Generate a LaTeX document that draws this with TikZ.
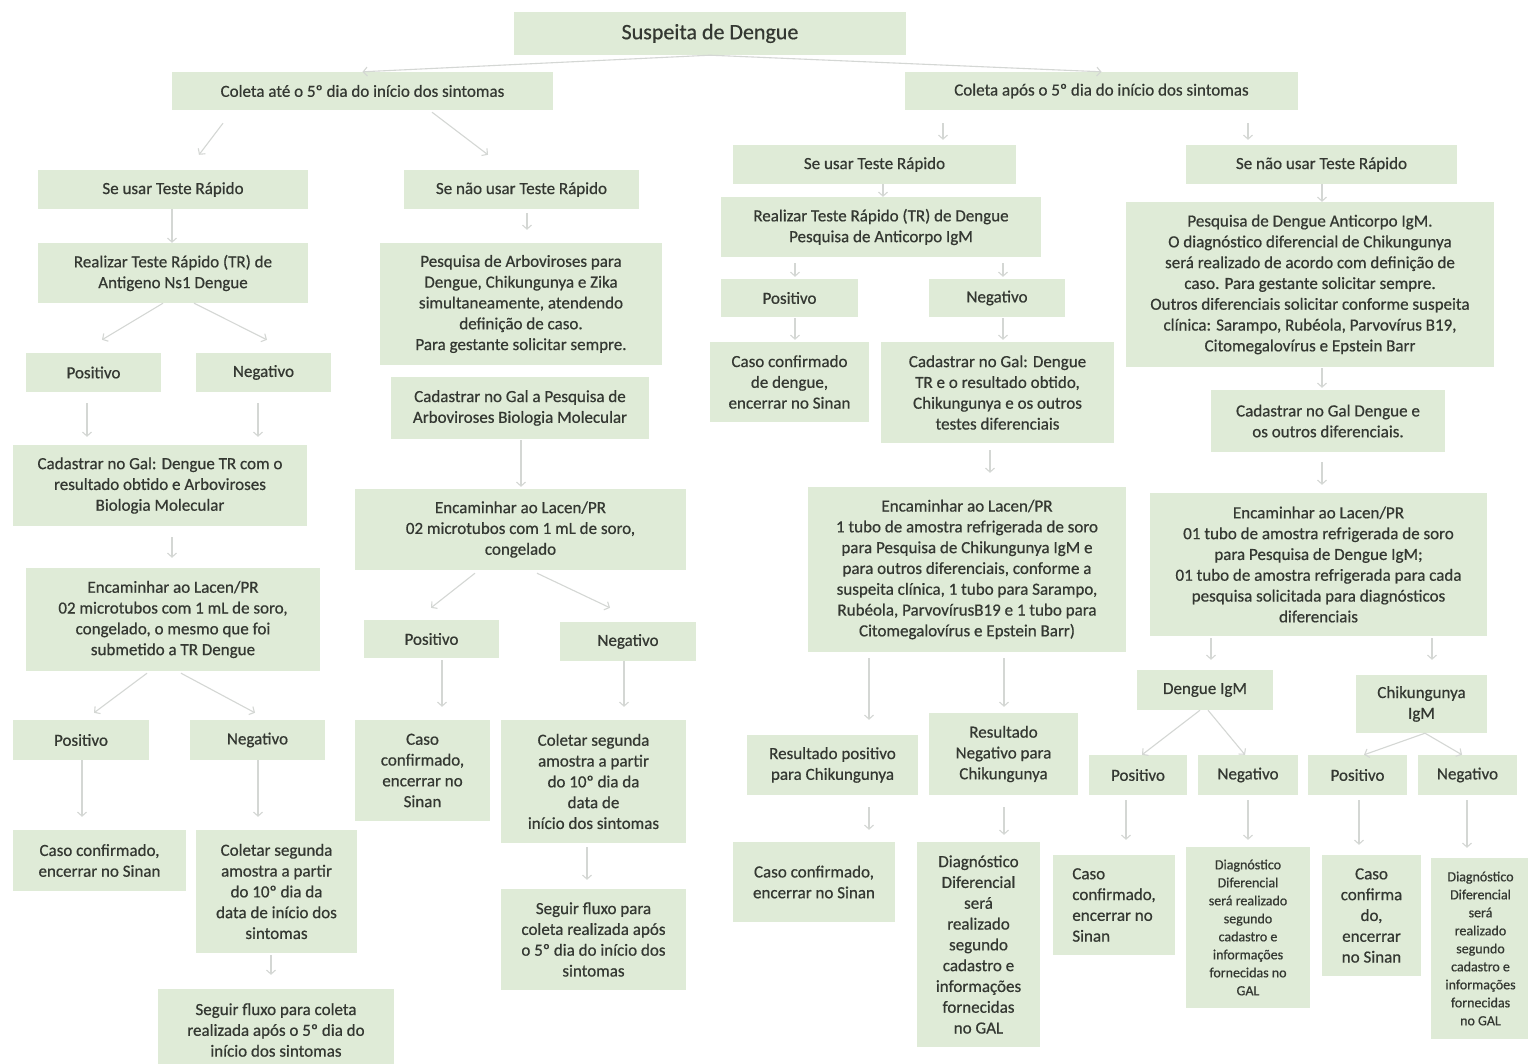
\documentclass[tikz,border=0pt]{standalone}
\usepackage{fontspec}
\setmainfont{Carlito}[FakeBold=0.6]
\usetikzlibrary{arrows.meta,calc}
\definecolor{boxfill}{RGB}{223,235,215}
\definecolor{ink}{RGB}{52,56,50}
\definecolor{linkgray}{RGB}{212,215,212}
\tikzset{
  box/.style={fill=boxfill, text=ink, inner sep=0pt, align=center,
              font=\fontsize{17}{20.8}\selectfont},
  smalltext/.style={font=\fontsize{14}{18}\selectfont},
  titletext/.style={font=\fontsize{22}{26}\selectfont},
  arr/.style={draw=linkgray, line width=1.1pt,
              -{Straight Barb[length=4pt,width=9pt]}},
}
% box given by its corners (x1,y1)-(x2,y2), y growing downwards
\newcommand\flowbox[7][]{%
  \node[box,#1,minimum width={(#5-#3)*1pt},minimum height={(#6-#4)*1pt}]
    (#2) at ({(#3+#5)/2},{(#4+#6)/2}) {#7};}
% connector from below one box to above another, with offsets
\newcommand\conn[4]{\draw[arr] ($(#1.south)+(#2)$) -- ($(#3.north)+(#4)$);}

\begin{document}
\begin{tikzpicture}[x=1pt,y=-1pt]
\clip (0,0) rectangle (1528,1064);
\fill[white] (0,0) rectangle (1528,1064);

% ---------- top levels ----------
\flowbox[titletext]{top}{514}{12}{906}{55}{Suspeita de Dengue}
\flowbox{cA}{172}{72}{553}{110}{Coleta até o 5º dia do início dos sintomas}
\flowbox{cB}{905}{72}{1298}{110}{Coleta após o 5º dia do início dos sintomas}

% ---------- collection up to day 5 ----------
\flowbox{lUse}{38}{170}{308}{209}{Se usar Teste Rápido}
\flowbox{lNo}{404}{170}{639}{209}{Se não usar Teste Rápido}
\flowbox{lNs1}{38}{243}{308}{303}{Realizar Teste Rápido (TR) de\\Antigeno Ns1 Dengue}
\flowbox{lArb}{380}{243}{662}{365}{Pesquisa de Arboviroses para\\Dengue, Chikungunya e Zika\\simultaneamente, atendendo\\definição de caso.\\Para gestante solicitar sempre.}
\flowbox{lPos}{26}{353}{161}{392}{Positivo}
\flowbox{lNeg}{196}{353}{331}{392}{Negativo}
\flowbox{lGal}{13}{445}{307}{526}{Cadastrar no Gal: Dengue TR com o\\resultado obtido e Arboviroses\\Biologia Molecular}
\flowbox{lGalB}{391}{377}{649}{439}{Cadastrar no Gal a Pesquisa de\\Arboviroses Biologia Molecular}
\flowbox{lLacB}{355}{489}{686}{570}{Encaminhar ao Lacen/PR\\02 microtubos com 1 mL de soro,\\congelado}
\flowbox{lLacA}{26}{568}{320}{671}{Encaminhar ao Lacen/PR\\02 microtubos com 1 mL de soro,\\congelado, o mesmo que foi\\submetido a TR Dengue}
\flowbox{mPos}{364}{620}{499}{658}{Positivo}
\flowbox{mNeg}{560}{622}{696}{661}{Negativo}
\flowbox{aPos}{13}{720}{149}{760}{Positivo}
\flowbox{aNeg}{190}{720}{325}{760}{Negativo}
\flowbox{mCaso}{355}{720}{490}{821}{Caso\\confirmado,\\encerrar no\\Sinan}
\flowbox{mCol}{501}{720}{686}{843}{Coletar segunda\\amostra a partir\\do 10º dia da\\data de\\início dos sintomas}
\flowbox{aCaso}{13}{830}{186}{891}{Caso confirmado,\\encerrar no Sinan}
\flowbox{aCol}{196}{830}{357}{953}{Coletar segunda\\amostra a partir\\do 10º dia da\\data de início dos\\sintomas}
\flowbox{mSeg}{501}{889}{686}{990}{Seguir fluxo para\\coleta realizada após\\o 5º dia do início dos\\sintomas}
\flowbox{aSeg}{158}{989}{394}{1071}{Seguir fluxo para coleta\\realizada após o 5º dia do\\início dos sintomas}

% ---------- collection after day 5 ----------
\flowbox{rUse}{733}{145}{1016}{184}{Se usar Teste Rápido}
\flowbox{rNo}{1186}{145}{1457}{184}{Se não usar Teste Rápido}
\flowbox{rTR}{721}{197}{1041}{257}{Realizar Teste Rápido (TR) de Dengue\\Pesquisa de Anticorpo IgM}
\flowbox{rBig}{1126}{202}{1494}{367}{Pesquisa de Dengue Anticorpo IgM.\\O diagnóstico diferencial de Chikungunya\\será realizado de acordo com definição de\\caso. Para gestante solicitar sempre.\\Outros diferenciais solicitar conforme suspeita\\clínica: Sarampo, Rubéola, Parvovírus B19,\\Citomegalovírus e Epstein Barr}
\flowbox{rPos}{721}{279}{858}{317}{Positivo}
\flowbox{rNeg}{929}{279}{1065}{317}{Negativo}
\flowbox{rCaso}{710}{342}{869}{422}{Caso confirmado\\de dengue,\\encerrar no Sinan}
\flowbox{rGal}{881}{342}{1114}{443}{Cadastrar no Gal: Dengue\\TR e o resultado obtido,\\Chikungunya e os outros\\testes diferenciais}
\flowbox{rGalB}{1211}{390}{1445}{452}{Cadastrar no Gal Dengue e\\os outros diferenciais.}
\flowbox{rLac}{808}{487}{1126}{652}{Encaminhar ao Lacen/PR\\1 tubo de amostra refrigerada de soro\\para Pesquisa de Chikungunya IgM e\\para outros diferenciais, conforme a\\suspeita clínica, 1 tubo para Sarampo,\\Rubéola, ParvovírusB19 e 1 tubo para\\Citomegalovírus e Epstein Barr)}
\flowbox{rLacB}{1150}{493}{1487}{636}{Encaminhar ao Lacen/PR\\01 tubo de amostra refrigerada de soro\\para Pesquisa de Dengue IgM;\\01 tubo de amostra refrigerada para cada\\pesquisa solicitada para diagnósticos\\diferenciais}
\flowbox{dIgM}{1137}{670}{1273}{710}{Dengue IgM}
\flowbox{cIgM}{1356}{675}{1487}{733}{Chikungunya\\IgM}
\flowbox{resP}{747}{735}{918}{795}{Resultado positivo\\para Chikungunya}
\flowbox{resN}{929}{713}{1078}{795}{Resultado\\Negativo para\\Chikungunya}
\flowbox{dPos}{1089}{755}{1187}{795}{Positivo}
\flowbox{dNeg}{1198}{755}{1298}{795}{Negativo}
\flowbox{cPos}{1308}{755}{1407}{795}{Positivo}
\flowbox{cNeg}{1418}{755}{1517}{795}{Negativo}
\flowbox{fCaso}{733}{842}{895}{922}{Caso confirmado,\\encerrar no Sinan}
\flowbox{fDiag}{917}{842}{1040}{1047}{Diagnóstico\\Diferencial\\será\\realizado\\segundo\\cadastro e\\informações\\fornecidas\\no GAL}
\flowbox[align=left]{dCaso}{1053}{855}{1175}{955}{Caso\\confirmado,\\encerrar no\\Sinan}
\flowbox[smalltext]{dDiag}{1186}{847}{1310}{1008}{Diagnóstico\\Diferencial\\será realizado\\segundo\\cadastro e\\informações\\fornecidas no\\GAL}
\flowbox{cCaso}{1322}{855}{1421}{976}{Caso\\confirma\\do,\\encerrar\\no Sinan}
\flowbox[smalltext]{cDiag}{1431}{858}{1530}{1039}{Diagnóstico\\Diferencial\\será\\realizado\\segundo\\cadastro e\\informações\\fornecidas\\no GAL}

% ---------- connectors ----------
\draw[arr] (top.south) -- (cA.north);
\draw[arr] (top.south) -- (cB.north);

\conn{cA}{-139.5,13}{lUse}{26,-15}
\conn{cA}{69.5,2}{lNo}{-33.5,-15}
\conn{lUse}{-1,0}{lNs1}{-1,0}
\conn{lNo}{5.5,4}{lArb}{6,-13}
\conn{lNs1}{-10,0}{lPos}{8.5,-13}
\conn{lNs1}{21,0}{lNeg}{3.5,-13}
\conn{lPos}{-6.5,11}{lGal}{-73,-8}
\conn{lNeg}{-5.5,11}{lGal}{98,-8}
\conn{lGal}{12,11}{lLacA}{-1,-10}
\conn{lGalB}{1,1}{lLacB}{0.5,-2}
\conn{lLacB}{-45.5,3}{mPos}{-0.5,-12}
\conn{lLacB}{16.5,3}{mNeg}{-18,-14}
\conn{mPos}{10.5,2}{mCaso}{19.5,-13}
\conn{mNeg}{-4,0}{mCol}{30.5,-13}
\conn{lLacA}{-26,2}{aPos}{13,-7}
\conn{lLacA}{8,2}{aNeg}{-2.5,-7}
\conn{aPos}{1,0}{aCaso}{-17.5,-13}
\conn{aNeg}{0.5,0}{aCol}{-18.5,-13}
\conn{aCol}{-5.5,2}{aSeg}{-5,-14}
\conn{mCol}{-6.5,4}{mSeg}{-6.5,-9}

\conn{cB}{-158.5,13}{rUse}{68.5,-5}
\conn{cB}{146.5,13}{rNo}{-73.5,-5}
\conn{rUse}{8.5,0}{rTR}{2,0}
\conn{rNo}{0.5,0}{rBig}{12,0}
\conn{rTR}{-86,6}{rPos}{5.5,-2}
\conn{rTR}{122,6}{rNeg}{6,-2}
\conn{rPos}{5.5,1}{rCaso}{5.5,-2}
\conn{rNeg}{6,1}{rGal}{5.5,-2}
\conn{rBig}{12,1}{rGalB}{-6,-2}
\conn{rGal}{-7.5,7}{rLac}{23,-14}
\conn{rGalB}{-6,10}{rLacB}{3.5,-8}
\conn{rLac}{-98,6}{resP}{36.5,-15}
\conn{rLac}{37,6}{resN}{0.5,-6}
\conn{rLacB}{-107.5,2}{dIgM}{6,-10}
\conn{rLacB}{113.5,2}{cIgM}{10.5,-15}
\conn{dIgM}{-5,0}{dPos}{4,0}
\conn{dIgM}{3,0}{dNeg}{-3,0}
\conn{cIgM}{3.5,0}{cPos}{6.5,0}
\conn{cIgM}{3.5,0}{cNeg}{-5.5,0}
\conn{resP}{36.5,12}{fCaso}{55,-12}
\conn{resN}{0.5,12}{fDiag}{25.5,-7}
\conn{dPos}{-12,5}{dCaso}{12,-15}
\conn{dNeg}{0,5}{dDiag}{0,-7}
\conn{cPos}{1.5,5}{cCaso}{-12.5,-10}
\conn{cNeg}{-0.5,5}{cDiag}{-13.5,-10}
\end{tikzpicture}
\end{document}
